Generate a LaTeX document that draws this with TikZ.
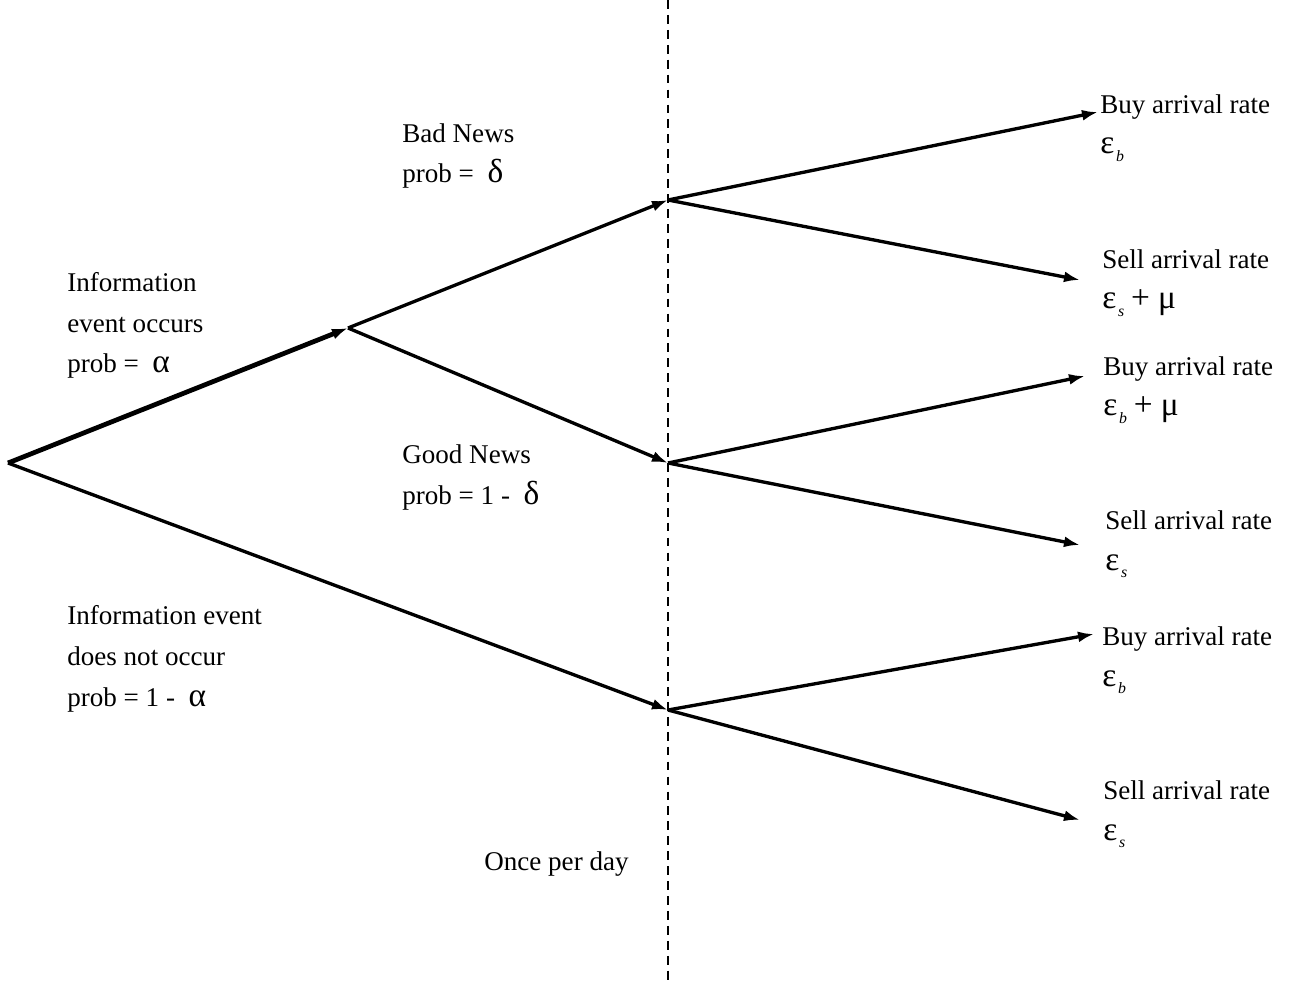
\documentclass[tikz,border=0pt]{standalone}
\usepackage{fontspec}
\setmainfont{Liberation Serif}
\usetikzlibrary{arrows.meta}
\newcommand{\gk}[1]{{\fontsize{19}{23.3}\selectfont #1}}
\newcommand{\lowsub}[1]{\kern1pt\raisebox{-4pt}{\fontsize{9}{9}\selectfont\textit{#1}}}

\begin{document}
\begin{tikzpicture}[x=0.02cm,y=-0.02cm,branch/.style={line width=1.9pt,-{Latex[length=3.2mm,width=2.2mm]}},lbl/.style={anchor=base west,inner sep=0pt,align=left,font=\fontsize{15.4}{23.3}\selectfont},every node/.style={font=\fontsize{15.4}{23.3}\selectfont}]
\useasboundingbox (0,0) rectangle (1296,983);
% the day boundary
\coordinate (top) at (668,0);
\coordinate (bot) at (668,983);
\draw[line width=1.1pt,dash pattern=on 5pt off 3.5pt] (top)--(bot);
% branch points
\coordinate (root) at (8,463);
\coordinate (info) at (348,328);
\coordinate (bad) at (668,200);
\coordinate (good) at (668,463);
\coordinate (none) at (668,710);
\coordinate (b1) at (1098,112);
\coordinate (s1) at (1080,280);
\coordinate (b2) at (1085,376);
\coordinate (s2) at (1080,545);
\coordinate (b3) at (1094,634);
\coordinate (s3) at (1080,820);
\draw[branch,line width=2.7pt] (root)--(info);
\draw[branch] (info)--(bad);
\draw[branch] (info)--(good);
\draw[branch] (root)--(none);
\draw[branch] (bad)--(b1);
\draw[branch] (bad)--(s1);
\draw[branch] (good)--(b2);
\draw[branch] (good)--(s2);
\draw[branch] (none)--(b3);
\draw[branch] (none)--(s3);
% probabilities (placed at the last baseline)
\node[lbl] (occ) at (67,373) {Information\\event occurs\\prob = \ \gk{α}};
\node[lbl] (nocc) at (67,706) {Information event\\does not occur\\prob = 1 - \ \gk{α}};
\node[lbl] (badnews) at (402,183) {Bad News\\prob = \ \gk{δ}};
\node[lbl] (goodnews) at (402,504) {Good News\\prob = 1 - \ \gk{δ}};
\node[lbl] (day) at (484,870) {Once per day};
% arrival rates
\node[lbl] (r1) at (1100,154) {Buy arrival rate\\\gk{ε}\lowsub{b}};
\node[lbl] (r2) at (1102,309) {Sell arrival rate\\\gk{ε}\lowsub{s} \gk{+ μ}};
\node[lbl] (r3) at (1103,416) {Buy arrival rate\\\gk{ε}\lowsub{b} \gk{+ μ}};
\node[lbl] (r4) at (1105,570) {Sell arrival rate\\\gk{ε}\lowsub{s}};
\node[lbl] (r5) at (1102,686) {Buy arrival rate\\\gk{ε}\lowsub{b}};
\node[lbl] (r6) at (1103,840) {Sell arrival rate\\\gk{ε}\lowsub{s}};
\end{tikzpicture}
\end{document}
